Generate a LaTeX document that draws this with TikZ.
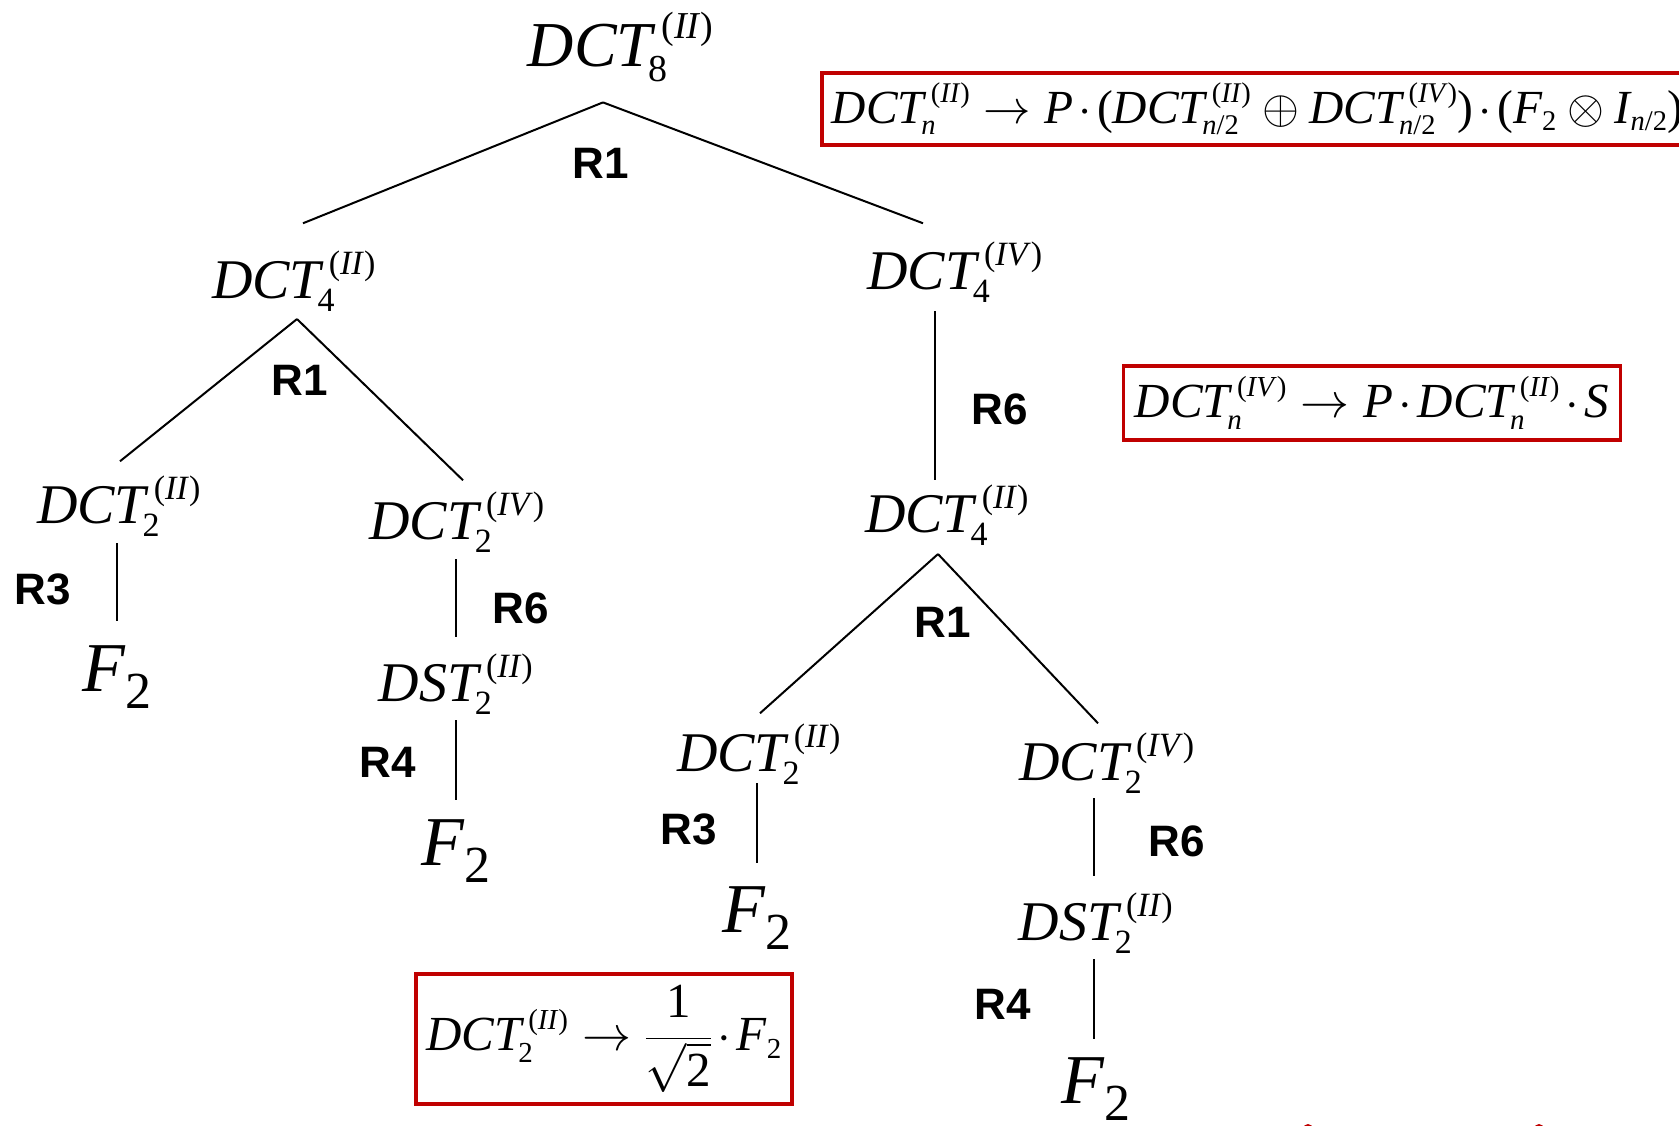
\documentclass[tikz,border=0pt]{standalone}
\usepackage{fix-cm}
\usepackage{amsmath}
\usepackage{fontspec}
\setmainfont{Liberation Serif}
\setsansfont{Liberation Sans}
\definecolor{lawred}{RGB}{192,0,0}
\DeclareMathSizes{64}{64}{38}{30}
\DeclareMathSizes{56}{56}{34}{26}
\DeclareMathSizes{70}{70}{52}{40}
\DeclareMathSizes{49}{49}{29}{23}
\DeclareMathSizes{47.5}{47.5}{28.5}{22}
\newcommand{\itx}[1]{\text{\itshape #1}}
\newcommand{\rmx}[1]{\text{\upshape #1}}
\newcommand{\trans}[3]{\itx{#1}_{\kern-.06em#2}^{\kern.14em\rmx{(}\itx{#3\/}\rmx{)}}}
\newcommand{\half}{\text{\itshape n\/\upshape/2}}
\newcommand{\dt}{\mkern2mu{\cdot}\mkern2mu}
\newcommand{\leafF}{$\itx{F}_{\rmx{2}}^{}$}
\begin{document}
\begin{tikzpicture}[x=1pt,y=-1pt,
    op/.style={inner sep=0pt,anchor=base,font=\fontsize{56}{60}\selectfont},
    topop/.style={op,font=\fontsize{64}{68}\selectfont},
    leaf/.style={op,font=\fontsize{70}{74}\selectfont},
    rule/.style={inner sep=0pt,font=\sffamily\bfseries\fontsize{44}{48}\selectfont},
    law/.style={draw=lawred,line width=3.5pt,inner xsep=10pt,inner ysep=0pt,font=\fontsize{49}{53}\selectfont},
    edge/.style={line width=2pt}]
\useasboundingbox (0,0) rectangle (1679,1125);

\node[topop] (root) at (621,66) {$\trans{DCT}{\rmx{8}}{II}$};
\node[op] (l4) at (294,298) {$\trans{DCT}{\rmx{4}}{II}$};
\node[op] (r4) at (955,289) {$\trans{DCT}{\rmx{4}}{IV}$};
\node[op] (c4) at (947,532) {$\trans{DCT}{\rmx{4}}{II}$};

\node[op] (a2) at (119,523) {$\trans{DCT}{\rmx{2}}{II}$};
\node[leaf] (af) at (117,691) {\leafF};
\node[op] (b2) at (457,539) {$\trans{DCT}{\rmx{2}}{IV}$};
\node[op] (bs) at (456,701) {$\trans{DST}{\rmx{2}}{II}$};
\node[leaf] (bf) at (456,865) {\leafF};

\node[op] (d2) at (759,771) {$\trans{DCT}{\rmx{2}}{II}$};
\node[leaf] (df) at (757,932) {\leafF};
\node[op] (e2) at (1107,780) {$\trans{DCT}{\rmx{2}}{IV}$};
\node[op] (es) at (1096,940) {$\trans{DST}{\rmx{2}}{II}$};
\node[leaf] (ef) at (1096,1103) {\leafF};

\draw[edge] ([xshift=-18pt,yshift=-20pt]root.south) -- ([xshift=9pt,yshift=27pt]l4.north);
\draw[edge] ([xshift=-18pt,yshift=-20pt]root.south) -- ([xshift=-32pt,yshift=18pt]r4.north);
\draw[edge] ([xshift=3pt,yshift=-7pt]l4.south) -- ([xshift=1pt,yshift=14pt]a2.north);
\draw[edge] ([xshift=3pt,yshift=-7pt]l4.south) -- ([xshift=6pt,yshift=11pt]b2.north);
\draw[edge] ([xshift=-20pt,yshift=-8pt]r4.south) -- ([xshift=-12pt,yshift=4pt]c4.north);
\draw[edge] ([xshift=-9pt,yshift=-8pt]c4.south) -- ([xshift=1pt,yshift=10pt]d2.north);
\draw[edge] ([xshift=-9pt,yshift=-8pt]c4.south) -- ([xshift=-9pt,yshift=9pt]e2.north);

\draw[edge] ([xshift=-2pt,yshift=-6pt]a2.south) -- ([yshift=24pt]af.north);
\draw[edge] ([xshift=-1pt,yshift=-6pt]b2.south) -- ([yshift=16pt]bs.north);
\draw[edge] ([yshift=-5pt]bs.south) -- ([yshift=19pt]bf.north);
\draw[edge] ([xshift=-2pt,yshift=2pt]d2.south) -- ([yshift=23pt]df.north);
\draw[edge] ([xshift=-13pt,yshift=-4pt]e2.south) -- ([xshift=-2pt,yshift=16pt]es.north);
\draw[edge] ([xshift=-2pt,yshift=-5pt]es.south) -- ([xshift=-2pt,yshift=18pt]ef.north);

\node[rule] (r1a) at (601,163) {R1};
\node[rule] (r1b) at (300,380) {R1};
\node[rule] (r6a) at (1000,409) {R6};
\node[rule] (r1c) at (943,622) {R1};
\node[rule] (r3a) at (43,589) {R3};
\node[rule] (r6b) at (521,608) {R6};
\node[rule] (r4a) at (388,762) {R4};
\node[rule] (r3b) at (689,829) {R3};
\node[rule] (r6c) at (1177,841) {R6};
\node[rule] (r4b) at (1003,1004) {R4};

\node[law,anchor=west,minimum height=72pt,font=\fontsize{47.5}{52}\selectfont] (law1) at (820,109)
  {$\trans{DCT}{\itx{n}}{II}\rightarrow\itx{P}\dt\rmx{(}\trans{DCT}{\half}{II}\oplus\trans{DCT}{\half}{IV}\rmx{)}\dt\rmx{(}\itx{F}_{\rmx{2}}\otimes\itx{I}_{\half}\rmx{)}$};
\node[law,minimum width=497pt,minimum height=74pt] (law2) at (1372,403)
  {$\trans{DCT}{\itx{n}}{IV}\rightarrow\itx{P}\dt\trans{DCT}{\itx{n}}{II}\dt\itx{S}$};
\node[law,minimum width=368pt,minimum height=130pt] (law3) at (604,1039)
  {$\trans{DCT}{\rmx{2}}{II}\rightarrow\dfrac{\rmx{1}}{\sqrt{\rmx{2}}}\dt\itx{F}_{\rmx{2}}$};

\fill[lawred] (1308,1129) circle (5);
\fill[lawred] (1539,1129) circle (5);
\end{tikzpicture}
\end{document}
